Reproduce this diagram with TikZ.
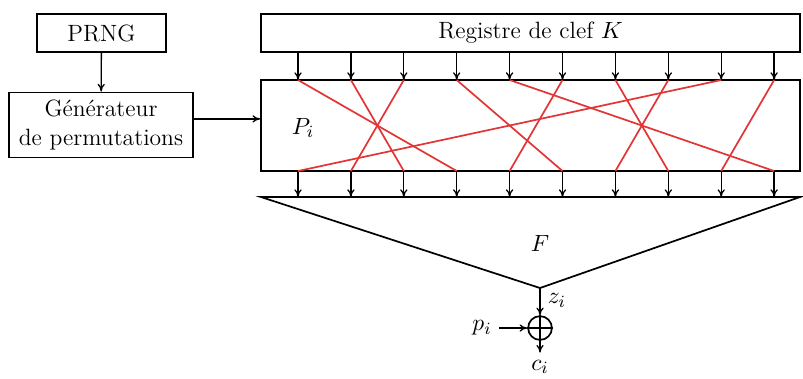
\documentclass[tikz,border=0pt]{standalone}
\definecolor{permred}{RGB}{226, 54, 54}
\usepackage{tikz}
\usetikzlibrary{arrows.meta, positioning, calc}
\usepackage{amsmath, amssymb}

\begin{document}
\begin{tikzpicture}[x=0.0164cm, y=-0.0164cm,
  font=\fontsize{11}{13.5}\selectfont,
  box/.style={draw, thick, minimum height=0.623cm, inner sep=2pt},
  wire/.style={-{To[length=3.6pt, width=3.4pt]}, semithick},
  perm line/.style={permred, thick}]
  \useasboundingbox (0,0) rectangle (803,378);

  % blocs
  \node[box, minimum width=2.116cm] (prng) at (101.5,33) {PRNG};
  \node[box, minimum width=3.02cm, minimum height=1.07cm, align=center] (gen) at (101,125) {Générateur\\de permutations};
  \node[box, minimum width=8.84cm] (key) at (530.5,33) {Registre de clef $K$};
  \node[box, minimum width=8.84cm, minimum height=1.49cm] (perm) at (530.5,125.5) {};
  \node (pi) at (303,128) {$P_i$};

  \draw[wire] (prng) -- (gen);
  \draw[wire] ([yshift=0.1cm]gen.east) -- ([yshift=0.1cm]gen.east -| perm.west);

  % fonction F
  \coordinate (fl) at (261,197);
  \coordinate (fr) at (800,197);
  \coordinate (fz) at (540,288);
  \draw[thick] (fl) -- (fr) -- (fz) -- cycle;
  \node (f) at (540,243) {$F$};

  \foreach \i in {1,...,10} {
    \coordinate (t\i) at ({298+(\i-1)*52.9},80);
    \coordinate (b\i) at ({298+(\i-1)*52.9},171);
    \draw[wire] (key.south -| t\i) -- (t\i);
    \draw[wire] (b\i) -- (b\i |- fl);
  }
  \foreach \a/\b in {1/4, 2/3, 3/2, 4/6, 5/10, 6/5, 7/8, 8/7, 9/1, 10/9}
    \draw[perm line] (t\a) -- (b\b);

  % chiffrement
  \node[draw, thick, circle, minimum size=0.39cm, inner sep=0pt] (xor) at (540,328) {};
  \draw[thick] (xor.north) -- (xor.south) (xor.west) -- (xor.east);
  \draw[wire] (fz) -- node[right, pos=0.45] {$z_i$} (xor);
  \node (p) at (482,328) {$p_i$};
  \draw[wire] (p) -- (xor);
  \node (c) at (540,367) {$c_i$};
  \draw[wire] (xor) -- (c);
\end{tikzpicture}
\end{document}
